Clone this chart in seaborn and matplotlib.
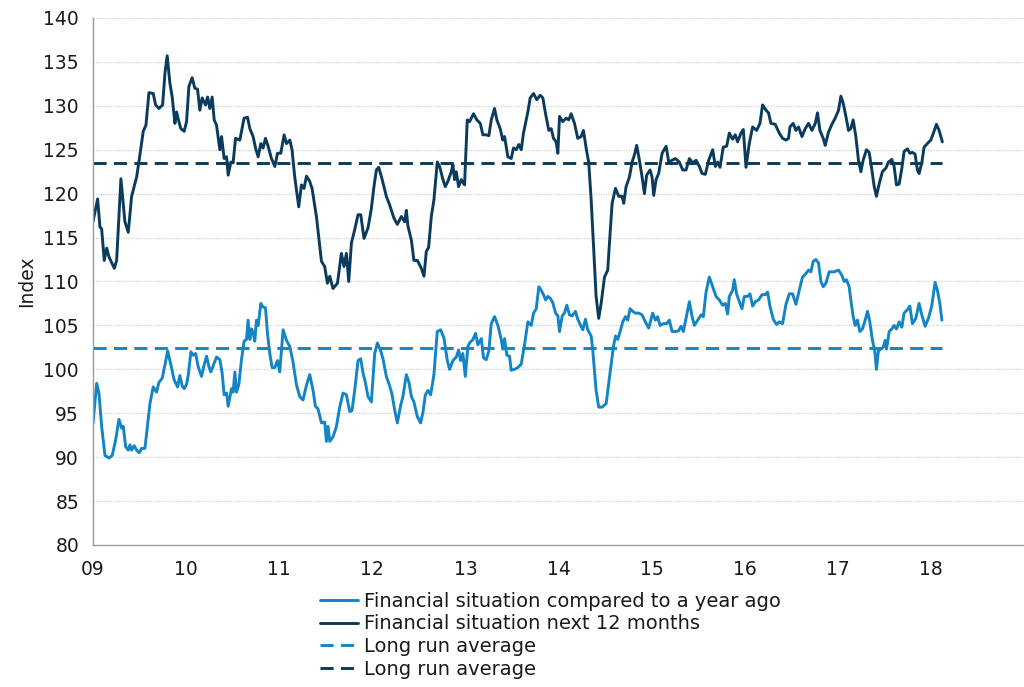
import numpy as np
import pandas as pd
import matplotlib
matplotlib.use("Agg")
import matplotlib.pyplot as plt
import seaborn as sns

# Consumer confidence: financial situation indices (weekly-ish readings)
# time is given in years since the start of 2009
t_next = [0.000, 0.050, 0.075, 0.093, 0.121, 0.147, 0.172, 0.229, 0.254, 0.300, 0.343, 0.379, 0.415, 0.469,
          0.504, 0.540, 0.569, 0.601, 0.647, 0.673, 0.708, 0.748, 0.773, 0.797, 0.826, 0.851, 0.880, 0.898,
          0.923, 0.944, 0.980, 1.005, 1.030, 1.065, 1.094, 1.123, 1.148, 1.173, 1.209, 1.231, 1.255, 1.280,
          1.302, 1.327, 1.363, 1.381, 1.409, 1.435, 1.452, 1.481, 1.505, 1.531, 1.577, 1.623, 1.660, 1.685,
          1.720, 1.746, 1.774, 1.803, 1.827, 1.853, 1.881, 1.917, 1.953, 1.982, 2.017, 2.053, 2.078, 2.114,
          2.138, 2.167, 2.210, 2.239, 2.267, 2.293, 2.328, 2.353, 2.400, 2.454, 2.489, 2.518, 2.543, 2.578,
          2.626, 2.668, 2.696, 2.722, 2.747, 2.776, 2.811, 2.847, 2.876, 2.911, 2.954, 2.990, 3.018, 3.044,
          3.069, 3.104, 3.151, 3.187, 3.233, 3.269, 3.312, 3.348, 3.366, 3.383, 3.420, 3.447, 3.484, 3.527,
          3.555, 3.580, 3.605, 3.634, 3.662, 3.698, 3.723, 3.759, 3.784, 3.812, 3.849, 3.866, 3.884, 3.902,
          3.927, 3.956, 3.991, 4.020, 4.045, 4.088, 4.123, 4.160, 4.188, 4.224, 4.252, 4.278, 4.313, 4.338,
          4.374, 4.402, 4.421, 4.456, 4.492, 4.517, 4.546, 4.574, 4.600, 4.624, 4.671, 4.696, 4.732, 4.767,
          4.804, 4.832, 4.861, 4.896, 4.922, 4.946, 4.975, 4.993, 5.011, 5.046, 5.083, 5.110, 5.136, 5.172,
          5.207, 5.243, 5.268, 5.297, 5.325, 5.351, 5.376, 5.404, 5.432, 5.458, 5.494, 5.529, 5.547, 5.576,
          5.612, 5.647, 5.683, 5.701, 5.726, 5.762, 5.791, 5.815, 5.840, 5.869, 5.898, 5.923, 5.947, 5.984,
          6.005, 6.023, 6.048, 6.076, 6.113, 6.156, 6.184, 6.220, 6.255, 6.298, 6.334, 6.370, 6.406, 6.441,
          6.478, 6.513, 6.542, 6.577, 6.613, 6.656, 6.685, 6.709, 6.735, 6.770, 6.806, 6.835, 6.870, 6.899,
          6.924, 6.960, 6.985, 7.014, 7.049, 7.085, 7.128, 7.164, 7.192, 7.229, 7.256, 7.282, 7.328, 7.371,
          7.407, 7.443, 7.471, 7.486, 7.521, 7.550, 7.578, 7.615, 7.650, 7.686, 7.722, 7.758, 7.782, 7.808,
          7.843, 7.865, 7.900, 7.937, 7.972, 8.008, 8.033, 8.058, 8.087, 8.115, 8.140, 8.165, 8.194, 8.222,
          8.248, 8.272, 8.308, 8.337, 8.366, 8.391, 8.415, 8.444, 8.479, 8.516, 8.544, 8.580, 8.605, 8.630,
          8.659, 8.688, 8.712, 8.748, 8.774, 8.801, 8.830, 8.855, 8.873, 8.902, 8.927, 8.962, 8.999, 9.034,
          9.059, 9.088, 9.123]
v_next = [116.8, 119.4, 116.2, 116.0, 112.4, 113.8, 112.8, 111.5, 112.4, 121.7, 116.8, 115.6, 119.7, 121.9,
          124.4, 127.1, 127.8, 131.5, 131.4, 130.1, 129.7, 130.1, 133.7, 135.7, 132.6, 131.0, 128.0, 129.3,
          128.2, 127.4, 127.1, 128.2, 132.2, 133.2, 132.0, 131.9, 129.5, 130.9, 130.1, 131.0, 129.7, 131.0,
          128.4, 127.8, 125.0, 126.5, 124.0, 124.2, 122.1, 123.6, 123.5, 126.3, 126.1, 128.6, 128.7, 127.4,
          126.5, 125.2, 124.2, 125.7, 125.2, 126.3, 125.4, 124.0, 123.1, 124.6, 124.6, 126.7, 125.7, 126.1,
          125.0, 121.9, 118.5, 121.0, 120.6, 122.0, 121.4, 120.6, 117.4, 112.3, 111.7, 109.8, 110.6, 109.2,
          109.8, 113.2, 111.7, 113.2, 110.0, 114.4, 115.9, 117.6, 117.6, 114.9, 116.1, 118.3, 120.8, 122.7,
          123.0, 121.7, 119.7, 118.7, 117.2, 116.5, 117.4, 116.8, 118.1, 116.3, 114.7, 112.4, 112.4, 111.5,
          110.6, 113.4, 113.9, 117.4, 119.3, 123.6, 123.1, 121.6, 120.8, 121.4, 122.5, 123.3, 121.6, 122.5,
          120.8, 121.6, 121.0, 128.4, 128.2, 129.1, 128.4, 128.0, 126.7, 126.7, 126.6, 128.4, 129.7, 128.4,
          127.4, 126.1, 126.5, 124.2, 124.0, 125.2, 125.0, 125.6, 125.0, 126.9, 129.3, 130.9, 131.4, 130.7,
          131.2, 130.9, 129.1, 127.2, 127.4, 126.3, 125.9, 124.6, 128.8, 128.2, 128.6, 128.4, 129.1, 128.0,
          126.3, 126.5, 127.2, 125.2, 123.5, 119.3, 114.0, 108.3, 105.8, 107.5, 110.5, 111.3, 114.3, 118.9,
          120.6, 119.7, 119.7, 118.9, 120.8, 121.9, 123.6, 124.4, 125.5, 123.8, 121.9, 120.0, 122.1, 122.7,
          121.9, 119.8, 121.6, 122.3, 124.6, 125.4, 123.6, 123.8, 124.0, 123.6, 122.7, 122.7, 124.0, 123.5,
          123.8, 123.1, 122.3, 122.2, 123.8, 125.0, 123.1, 123.6, 123.0, 125.3, 125.4, 126.9, 126.2, 126.7,
          125.9, 126.9, 127.3, 123.0, 125.7, 127.6, 127.2, 128.0, 130.1, 129.5, 129.2, 128.0, 127.9, 126.9,
          126.3, 126.1, 126.3, 127.6, 128.0, 127.2, 127.6, 126.5, 127.4, 128.0, 127.2, 128.0, 129.2, 127.2,
          126.3, 125.5, 127.0, 127.9, 128.6, 129.5, 131.1, 130.3, 128.8, 127.2, 127.4, 128.4, 126.5, 123.8,
          122.5, 123.8, 125.0, 124.7, 122.7, 120.8, 119.7, 121.1, 122.5, 122.9, 123.6, 123.9, 123.1, 121.0,
          121.1, 122.9, 124.8, 125.1, 124.6, 124.7, 124.5, 122.7, 122.3, 123.5, 125.3, 125.7, 126.1, 127.1,
          127.9, 127.2, 125.9]

t_comp = [0.000, 0.040, 0.064, 0.093, 0.129, 0.172, 0.207, 0.244, 0.279, 0.308, 0.325, 0.351, 0.379, 0.397,
          0.415, 0.443, 0.469, 0.494, 0.523, 0.558, 0.587, 0.612, 0.647, 0.683, 0.708, 0.744, 0.773, 0.802,
          0.837, 0.872, 0.909, 0.933, 0.958, 0.980, 1.005, 1.023, 1.052, 1.076, 1.102, 1.130, 1.166, 1.194,
          1.220, 1.245, 1.266, 1.291, 1.327, 1.363, 1.387, 1.409, 1.435, 1.452, 1.488, 1.505, 1.524, 1.542,
          1.567, 1.595, 1.623, 1.649, 1.666, 1.685, 1.703, 1.720, 1.738, 1.756, 1.774, 1.803, 1.827, 1.853,
          1.874, 1.899, 1.924, 1.953, 1.982, 2.006, 2.042, 2.078, 2.114, 2.149, 2.186, 2.221, 2.256, 2.293,
          2.328, 2.364, 2.389, 2.417, 2.454, 2.489, 2.507, 2.525, 2.543, 2.578, 2.615, 2.650, 2.686, 2.722,
          2.758, 2.782, 2.811, 2.847, 2.876, 2.900, 2.926, 2.954, 2.990, 3.026, 3.055, 3.090, 3.115, 3.151,
          3.187, 3.211, 3.240, 3.269, 3.305, 3.329, 3.366, 3.394, 3.420, 3.447, 3.484, 3.519, 3.544, 3.570,
          3.598, 3.627, 3.662, 3.698, 3.734, 3.769, 3.806, 3.830, 3.866, 3.902, 3.927, 3.948, 3.973, 3.999,
          4.027, 4.045, 4.081, 4.109, 4.134, 4.171, 4.195, 4.224, 4.252, 4.278, 4.313, 4.349, 4.385, 4.402,
          4.421, 4.445, 4.474, 4.492, 4.528, 4.563, 4.600, 4.635, 4.671, 4.707, 4.732, 4.761, 4.789, 4.814,
          4.839, 4.861, 4.885, 4.911, 4.939, 4.968, 4.993, 5.011, 5.040, 5.064, 5.089, 5.118, 5.147, 5.182,
          5.207, 5.233, 5.261, 5.290, 5.314, 5.351, 5.368, 5.386, 5.404, 5.432, 5.469, 5.512, 5.540, 5.565,
          5.590, 5.612, 5.636, 5.662, 5.690, 5.719, 5.744, 5.769, 5.797, 5.826, 5.862, 5.898, 5.933, 5.969,
          6.012, 6.041, 6.065, 6.091, 6.127, 6.162, 6.191, 6.220, 6.255, 6.291, 6.317, 6.341, 6.370, 6.406,
          6.435, 6.459, 6.495, 6.531, 6.556, 6.585, 6.620, 6.656, 6.692, 6.727, 6.763, 6.792, 6.817, 6.835,
          6.870, 6.888, 6.913, 6.942, 6.971, 6.996, 7.031, 7.057, 7.085, 7.114, 7.149, 7.186, 7.221, 7.246,
          7.271, 7.307, 7.342, 7.371, 7.407, 7.443, 7.479, 7.514, 7.550, 7.586, 7.621, 7.658, 7.686, 7.711,
          7.736, 7.765, 7.793, 7.819, 7.843, 7.872, 7.908, 7.961, 8.008, 8.044, 8.069, 8.093, 8.122, 8.140,
          8.165, 8.187, 8.211, 8.237, 8.265, 8.294, 8.319, 8.344, 8.372, 8.398, 8.415, 8.436, 8.462, 8.487,
          8.509, 8.523, 8.552, 8.580, 8.605, 8.630, 8.659, 8.688, 8.712, 8.748, 8.774, 8.801, 8.838, 8.873,
          8.902, 8.938, 8.973, 9.009, 9.045, 9.070, 9.096, 9.118]
v_comp = [93.8, 98.4, 97.3, 93.5, 90.2, 89.9, 90.2, 92.0, 94.3, 93.3, 93.5, 91.2, 90.8, 91.4,
          90.8, 91.3, 90.8, 90.5, 91.0, 91.0, 93.8, 96.1, 98.0, 97.4, 98.5, 99.0, 100.5, 102.1,
          100.5, 98.8, 98.0, 99.3, 98.1, 97.8, 98.3, 99.3, 102.0, 101.6, 101.8, 100.3, 99.2, 100.5,
          101.5, 100.3, 99.7, 100.4, 101.4, 101.1, 99.6, 97.1, 97.3, 95.8, 97.8, 97.4, 99.7, 97.4,
          98.3, 101.1, 103.2, 103.4, 105.6, 103.4, 104.6, 104.2, 103.2, 105.6, 105.0, 107.5, 107.1, 107.0,
          104.1, 101.8, 100.2, 100.2, 101.0, 99.7, 104.5, 103.3, 102.6, 100.8, 98.2, 96.9, 96.5, 98.2,
          99.4, 97.6, 95.8, 95.5, 93.9, 94.0, 91.8, 93.5, 91.8, 92.3, 93.5, 95.7, 97.3, 97.1,
          95.2, 95.3, 97.6, 101.0, 101.2, 99.6, 98.5, 96.9, 96.3, 101.8, 103.0, 102.1, 101.2, 99.2,
          98.1, 97.2, 95.4, 93.9, 95.9, 96.9, 99.4, 98.5, 96.9, 96.3, 94.6, 93.9, 95.1, 97.1,
          97.6, 97.1, 99.4, 104.3, 104.5, 103.6, 101.0, 100.0, 101.0, 101.4, 102.2, 101.0, 101.8, 99.2,
          102.6, 103.0, 103.4, 104.1, 102.8, 103.5, 101.3, 101.1, 102.1, 105.2, 106.0, 105.0, 103.4, 102.3,
          103.5, 101.6, 101.5, 99.9, 100.0, 100.2, 100.6, 102.8, 105.4, 105.0, 106.4, 106.9, 109.4, 109.0,
          108.5, 107.9, 108.3, 108.1, 107.6, 106.4, 106.1, 104.3, 106.1, 106.4, 107.3, 106.2, 106.1, 106.6,
          105.7, 105.1, 104.5, 105.7, 104.5, 103.8, 102.2, 99.9, 97.6, 95.7, 95.7, 96.1, 98.4, 100.5,
          102.6, 103.8, 103.4, 104.3, 105.4, 106.0, 105.6, 106.9, 106.6, 106.4, 106.4, 106.2, 105.4, 104.7,
          106.4, 105.6, 106.0, 105.0, 105.2, 105.2, 105.6, 104.3, 104.3, 104.4, 104.9, 104.3, 105.8, 107.7,
          106.0, 105.0, 105.6, 106.2, 106.0, 108.8, 110.5, 109.4, 108.3, 107.9, 107.3, 107.5, 106.3, 108.3,
          109.0, 110.2, 108.6, 107.7, 106.9, 108.3, 108.3, 108.6, 107.2, 107.7, 107.9, 108.5, 108.5, 108.8,
          107.2, 105.7, 105.1, 105.4, 105.2, 107.4, 108.6, 108.6, 107.4, 109.0, 110.5, 110.9, 111.3, 111.1,
          112.3, 112.5, 112.1, 110.0, 109.4, 109.8, 111.1, 111.1, 111.3, 110.7, 110.0, 110.2, 109.4, 107.9,
          106.0, 105.0, 105.6, 104.3, 104.6, 105.6, 106.6, 105.4, 103.3, 102.0, 100.0, 102.1, 102.3, 102.5,
          103.3, 102.3, 104.3, 104.6, 105.0, 104.6, 105.4, 104.8, 106.4, 106.8, 107.2, 105.2, 105.8, 107.5,
          106.2, 104.9, 105.8, 107.2, 109.9, 109.0, 107.5, 105.6]

avg_comp = 102.4
avg_next = 123.5

year_ticks = list(range(2009, 2019))
year_labels = ["09", "10", "11", "12", "13", "14", "15", "16", "17", "18"]

labels = ["Financial situation compared to a year ago",
          "Financial situation next 12 months",
          "Long run average",
          "Long run average"]

light = "#1384c4"
dark = "#0b3b5c"

sns.set_style("white")
plt.rcParams["font.family"] = ["DejaVu Sans"]

df_comp = pd.DataFrame({"year": 2009 + np.array(t_comp), "value": v_comp})
df_next = pd.DataFrame({"year": 2009 + np.array(t_next), "value": v_next})
t_end = 2009 + t_next[-1]
df_avg_comp = pd.DataFrame({"year": [2009, t_end], "value": [avg_comp, avg_comp]})
df_avg_next = pd.DataFrame({"year": [2009, t_end], "value": [avg_next, avg_next]})

fig = plt.figure(figsize=(10.24, 6.87), dpi=100)
ax = fig.add_axes([0.0908, 0.2067, 0.9092, 0.7671])

for y in range(85, 141, 5):
    ax.axhline(y, color="#c9d1d9", lw=0.9, ls=(0, (1, 1)), zorder=0)

sns.lineplot(data=df_comp, x="year", y="value", ax=ax, color=light, lw=2.1, label=labels[0])
sns.lineplot(data=df_next, x="year", y="value", ax=ax, color=dark, lw=2.1, label=labels[1])
sns.lineplot(data=df_avg_comp, x="year", y="value", ax=ax, color=light, lw=2.1,
             label=labels[2]).lines[-1].set_dashes((4.5, 2.5))
sns.lineplot(data=df_avg_next, x="year", y="value", ax=ax, color=dark, lw=2.1,
             label=labels[3]).lines[-1].set_dashes((4.5, 2.5))

ax.set_xlim(2009, 2019)
ax.set_ylim(80, 140)
ax.set_yticks(range(80, 141, 5))
ax.set_xticks(year_ticks)
ax.set_xticklabels(year_labels)
ax.set_xlabel("")
ax.set_ylabel("Index", fontsize=13.5, color="#1a1a1a", labelpad=5)

for side in ["top", "right"]:
    ax.spines[side].set_visible(False)
for side in ["left", "bottom"]:
    ax.spines[side].set_color("#9a9a9a")
    ax.spines[side].set_linewidth(1.0)
ax.tick_params(axis="both", direction="out", length=5, width=1.0, color="#9a9a9a",
               labelsize=13.5, labelcolor="#1a1a1a")
ax.tick_params(axis="x", pad=6)
ax.tick_params(axis="y", pad=5)

handles, labs = ax.get_legend_handles_labels()
ax.get_legend().remove()
fig.legend(handles, labs, loc="upper left", bbox_to_anchor=(0.3125, 0.139), frameon=False,
           fontsize=14, handlelength=1.95, handletextpad=0.3, labelspacing=0.2,
           borderpad=0, borderaxespad=0, labelcolor="#1a1a1a")

fig.savefig("out.png", dpi=100)
